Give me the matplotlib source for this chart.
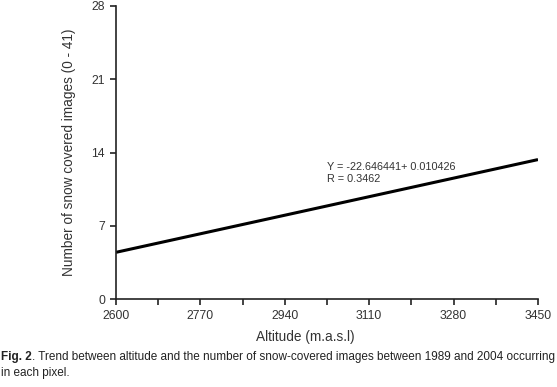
import matplotlib
matplotlib.use('Agg')
from matplotlib import pyplot as plt
import numpy as np

# regression from the figure
intercept = -22.646441
slope = 0.010426
r_value = 0.3462
altitude = [2600, 3450]
x_ticks = [2600, 2770, 2940, 3110, 3280, 3450]
y_ticks = [0, 7, 14, 21, 28]

plt.rcParams['font.family'] = ['Liberation Sans', 'DejaVu Sans']
txt = '#333333'

fig = plt.figure(figsize=(5.57, 3.87), dpi=100)
ax = fig.add_axes([116 / 557, 1 - 299 / 387, (538 - 116) / 557, (299 - 6) / 387])

alt = np.array(altitude)
ax.plot(alt, intercept + slope * alt, color='black', lw=2.2, solid_capstyle='butt')

ax.set_xlim(2600, 3450)
ax.set_ylim(0, 28)
ax.set_xticks(x_ticks)
ax.set_xticks(np.arange(2685, 3451, 170), minor=True)
ax.set_yticks(y_ticks)
for s in ['top', 'right']:
    ax.spines[s].set_visible(False)
for s in ['left', 'bottom']:
    ax.spines[s].set_linewidth(1.2)
    ax.spines[s].set_color('#222222')
ax.tick_params(axis='both', which='both', direction='out', length=4, width=1.2,
               color='#222222', labelsize=8.8, labelcolor=txt, pad=4)

ax.set_ylabel('Number of snow covered images (0 - 41)', fontsize=9.8, color=txt, labelpad=11)
fig.text(305 / 557, 1 - 337 / 387, 'Altitude (m.a.s.l)', fontsize=9.8, color=txt,
         ha='center', va='center')

ax.text(3025, 11.0, 'Y = -22.646441+ 0.010426\nR = %.4f' % r_value,
        fontsize=7.8, color=txt, va='bottom', ha='left', linespacing=1.25)

# caption: bold label followed by normal text
cap = '#222222'
t1 = fig.text(0.002, 1 - 357 / 387, 'Fig. 2', fontsize=8.45, fontweight='bold', color=cap,
              va='center', ha='left')
fig.canvas.draw()
bb = t1.get_window_extent()
x1 = bb.x1 / fig.bbox.width
fig.text(x1, 1 - 357 / 387, '. Trend between altitude and the number of snow-covered images between 1989 and 2004 occurring',
         fontsize=8.45, color=cap, va='center', ha='left')
fig.text(0.002, 1 - 373 / 387, 'in each pixel.', fontsize=8.45, color=cap, va='center', ha='left')

fig.savefig('out.png', dpi=100)
